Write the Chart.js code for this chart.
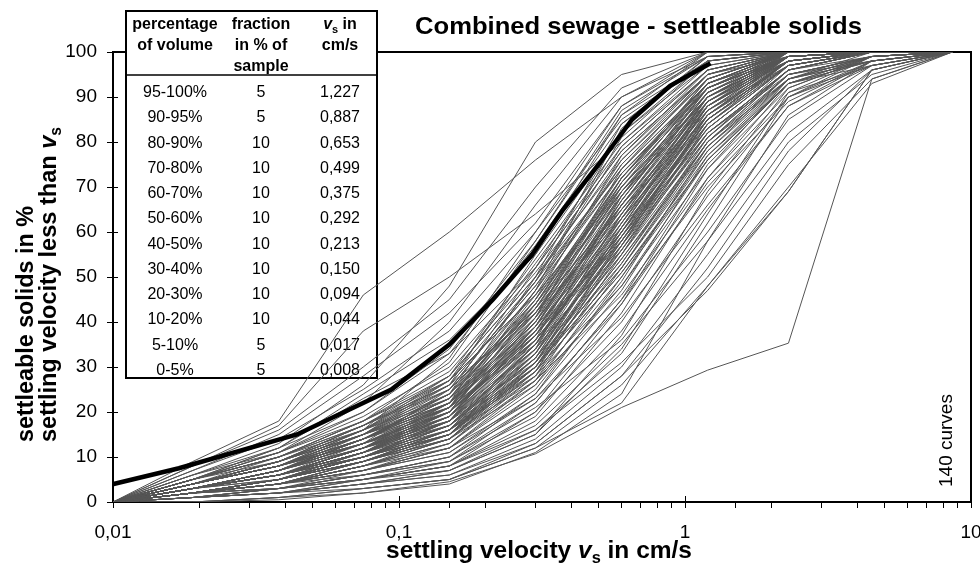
<!DOCTYPE html>
<html>
<head>
<meta charset="utf-8">
<title>Combined sewage - settleable solids</title>
<script src="https://cdn.jsdelivr.net/npm/chart.js@4.4.1/dist/chart.umd.min.js"></script>
<style>
  html, body { margin: 0; padding: 0; background: #fff; }
  #wrap { width: 980px; height: 571px; }
</style>
</head>
<body>
<div id="wrap"><canvas id="chart" width="980" height="571"></canvas></div>
<script>
/* ===============================
   Data
================================ */
const chartTitle = "Combined sewage - settleable solids";

// settling velocities (cm/s) at which every sample curve was read
const velocityGrid = [0.01, 0.019, 0.038, 0.075, 0.15, 0.3, 0.6, 1.2, 2.3, 4.5, 8.6];

// 140 sample curves, % settleable solids slower than v at each grid velocity
const grayCurves = [
  [0,9,18,46,60,76,90,100,100,100,100],
  [0,8,16,30,45,70,92,100,100,100,100],
  [0,7,15,28,42,62,88,99,100,100,100],
  [0,6,13,26,48,80,95,100,100,100,100],
  [0,7,14,25,38,60,85,98,100,100,100],
  [0,5,12,24,36,55,82,97,100,100,100],
  [0,6,11,22,40,66,90,99,100,100,100],
  [0,5,12,20,34,58,86,98,100,100,100],
  [0,8,17,38,50,64,80,96,100,100,100],
  [0,6,12,23,33,52,78,95,99,100,100],
  [0,4,8,15,24,45,72,92,99,100,100],
  [0,3,7,13,21,40,66,90,99,100,100],
  [0,4,9,16,26,48,75,94,100,100,100],
  [0,2,5,10,17,35,62,88,98,100,100],
  [0,3,6,12,19,38,65,89,99,100,100],
  [0,5,10,18,28,50,74,93,99,100,100],
  [0,2,4,8,14,30,58,85,98,100,100],
  [0,3,7,14,22,42,70,91,99,100,100],
  [0,4,8,14,20,36,60,86,98,100,100],
  [0,3,6,11,18,34,63,90,100,100,100],
  [0,2,5,9,15,32,60,87,99,100,100],
  [0,4,9,17,27,46,70,90,98,100,100],
  [0,3,5,10,16,31,55,82,95,98,100],
  [0,2,4,7,12,26,52,80,94,99,100],
  [0,3,7,13,20,39,68,92,100,100,100],
  [0,5,11,19,30,52,78,95,100,100,100],
  [0,3,6,11,17,33,59,85,98,100,100],
  [0,2,5,10,18,37,67,91,99,100,100],
  [0,4,8,15,23,41,64,87,98,100,100],
  [0,3,6,12,20,44,73,93,100,100,100],
  [0,2,3,6,10,22,45,75,93,97,100],
  [0,3,7,12,18,35,61,88,99,100,100],
  [0,4,9,16,24,43,69,90,99,100,100],
  [0,2,5,9,14,29,56,84,98,100,100],
  [0,3,6,10,16,30,54,80,96,99,100],
  [0,5,10,17,25,44,68,89,98,100,100],
  [0,3,7,14,23,47,76,95,100,100,100],
  [0,2,4,8,13,27,50,78,94,98,100],
  [0,4,8,13,19,34,57,83,97,100,100],
  [0,3,6,11,19,40,71,94,100,100,100],
  [0,2,5,10,16,28,48,74,92,99,100],
  [0,4,9,17,26,42,63,85,97,100,100],
  [0,3,6,12,21,45,77,96,100,100,100],
  [0,2,4,9,15,33,64,90,99,100,100],
  [0,3,7,13,22,38,58,82,96,100,100],
  [0,5,9,15,22,37,59,84,97,100,100],
  [0,2,5,11,19,41,72,93,100,100,100],
  [0,3,6,10,15,27,46,72,91,97,100],
  [0,4,8,14,21,39,66,90,99,100,100],
  [0,2,4,8,14,31,61,88,99,100,100],
  [0,3,7,12,17,30,52,79,95,99,100],
  [0,4,10,18,29,51,76,94,100,100,100],
  [0,2,5,9,16,36,69,92,100,100,100],
  [0,3,6,11,18,36,60,83,97,100,100],
  [0,2,4,7,11,24,47,77,93,98,100],
  [0,4,8,15,25,49,79,96,100,100,100],
  [0,3,6,12,20,37,62,86,98,100,100],
  [0,2,5,10,17,34,57,81,96,100,100],
  [0,4,9,15,22,40,67,91,99,100,100],
  [0,3,5,9,15,31,58,86,99,100,100],
  [0,2,4,8,12,25,49,79,95,99,100],
  [0,3,7,14,24,47,73,92,99,100,100],
  [0,5,10,16,23,39,61,84,97,100,100],
  [0,2,5,10,18,39,70,93,100,100,100],
  [0,3,6,11,16,29,51,77,94,98,100],
  [0,4,8,13,20,38,64,88,99,100,100],
  [0,2,4,9,16,35,66,91,100,100,100],
  [0,3,7,13,21,43,71,92,99,100,100],
  [0,2,5,9,14,28,53,81,97,100,100],
  [0,4,8,16,27,49,74,93,99,100,100],
  [0,3,6,12,19,36,59,82,96,100,100],
  [0,2,4,7,13,29,59,87,99,100,100],
  [0,3,6,11,18,41,74,95,100,100,100],
  [0,4,9,16,25,43,65,86,97,100,100],
  [0,2,5,10,17,32,55,80,95,99,100],
  [0,3,7,13,20,37,63,89,99,100,100],
  [0,2,3,7,12,27,55,84,98,100,100],
  [0,4,8,14,22,44,72,93,100,100,100],
  [0,3,6,10,15,30,57,85,98,100,100],
  [0,5,11,18,27,46,69,88,98,100,100],
  [0,2,4,8,14,30,54,79,94,99,100],
  [0,3,7,12,19,38,67,92,100,100,100],
  [0,2,5,11,20,42,69,90,99,100,100],
  [0,4,8,14,21,36,58,83,97,100,100],
  [0,3,6,11,17,32,61,89,100,100,100],
  [0,2,4,9,15,29,51,76,93,98,100],
  [0,3,7,14,23,45,70,91,99,100,100],
  [0,4,9,15,21,35,56,81,96,100,100],
  [0,2,5,10,16,33,62,89,99,100,100],
  [0,3,6,12,22,46,75,94,100,100,100],
  [0,2,4,7,12,23,44,71,90,97,100],
  [0,4,8,13,18,33,58,85,98,100,100],
  [0,3,6,11,20,43,72,94,100,100,100],
  [0,2,5,9,15,30,52,78,95,99,100],
  [0,3,7,14,22,40,65,88,98,100,100],
  [0,5,10,17,26,48,73,92,99,100,100],
  [0,2,4,8,13,28,57,86,99,100,100],
  [0,3,6,10,17,35,64,90,100,100,100],
  [0,4,8,15,24,42,66,87,97,100,100],
  [0,2,5,10,18,38,63,86,98,100,100],
  [0,3,6,12,18,31,53,80,96,100,100],
  [0,2,4,8,15,34,68,93,100,100,100],
  [0,3,7,13,21,41,68,90,99,100,100],
  [0,4,9,17,28,50,77,95,100,100,100],
  [0,2,5,9,14,26,48,76,94,99,100],
  [0,3,6,11,19,39,66,89,99,100,100],
  [0,2,4,9,16,32,56,82,96,100,100],
  [0,4,8,14,23,44,71,92,99,100,100],
  [0,3,6,12,20,37,60,85,98,100,100],
  [0,2,5,10,15,31,60,88,100,100,100],
  [0,3,6,12,22,50,84,99,100,100,100],
  [0,4,8,15,26,55,86,100,100,100,100],
  [0,3,7,14,24,52,82,98,100,100,100],
  [0,5,10,18,31,58,87,99,100,100,100],
  [0,4,9,16,28,54,80,97,100,100,100],
  [0,3,6,13,25,49,81,98,100,100,100],
  [0,2,5,11,21,47,83,99,100,100,100],
  [0,5,11,20,33,57,84,98,100,100,100],
  [0,4,8,16,32,60,88,100,100,100,100],
  [0,3,7,15,27,53,79,96,100,100,100],
  [0,1,3,6,9,20,40,68,90,98,100],
  [0,1,2,5,8,18,38,65,88,97,100],
  [0,2,3,6,10,21,36,60,85,97,100],
  [0,1,2,4,7,16,33,62,90,99,100],
  [0,1,3,5,8,17,35,58,82,96,100],
  [0,2,4,6,9,19,42,72,93,99,100],
  [0,1,2,4,6,14,30,55,80,95,100],
  [0,1,3,5,9,22,45,70,89,98,100],
  [0,0,1,3,5,13,28,52,78,96,100],
  [0,1,2,4,7,15,34,64,91,99,100],
  [0,2,3,5,8,16,31,50,75,94,100],
  [0,1,2,3,5,12,26,48,70,93,100],
  [0,0,1,2,4,11,24,58,86,98,100],
  [0,1,2,4,6,13,28,47,69,96,100],
  [0,1,3,6,10,24,50,76,93,99,100],
  [0,2,4,7,11,23,41,66,88,98,100],
  [0,1,2,5,8,20,44,74,94,100,100],
  [0,1,3,5,7,15,37,69,92,99,100],
  [0,0,0.5,2,4.5,10.7,21,29.3,35.3,94,100],
  [0,0,1,3,5,12,22,48,69,96,100]
];

// inset table: volume fractions and their settling velocities
const fractionRanges = ["95-100%", "90-95%", "80-90%", "70-80%", "60-70%", "50-60%",
                        "40-50%", "30-40%", "20-30%", "10-20%", "5-10%", "0-5%"];
const fractionShares = [5, 5, 10, 10, 10, 10, 10, 10, 10, 10, 5, 5];
const fractionVs = [1.227, 0.887, 0.653, 0.499, 0.375, 0.292, 0.213, 0.150, 0.094, 0.044, 0.017, 0.008];
// black design curve: cumulative % at each fraction velocity
const designPercent = [97.5, 92.5, 85, 75, 65, 55, 45, 35, 25, 15, 7.5, 2.5];

const xTickValues = [0.01, 0.1, 1, 10];
const xTickLabels = ["0,01", "0,1", "1", "10"];
const yTickValues = [0, 10, 20, 30, 40, 50, 60, 70, 80, 90, 100];

/* ===============================
   Text helpers
================================ */
const FONT = '"Liberation Sans", Arial, Helvetica, sans-serif';
const bold = size => "bold " + size + "px " + FONT;
const boldItalic = size => "italic bold " + size + "px " + FONT;
const regular = size => size + "px " + FONT;

function richWidth(ctx, parts) {
  let w = 0;
  parts.forEach(p => { ctx.font = p.font; w += ctx.measureText(p.text).width; });
  return w;
}

// draws text runs on one baseline; fitWidth nudges it to the measured width, center centres it
function drawRich(ctx, parts, x, y, fitWidth, center) {
  const w = richWidth(ctx, parts);
  const sx = fitWidth ? fitWidth / w : 1;
  ctx.save();
  ctx.textAlign = "left";
  ctx.textBaseline = "alphabetic";
  ctx.translate(center ? x - w * sx / 2 : x, y);
  ctx.scale(sx, 1);
  let cx = 0;
  parts.forEach(p => {
    ctx.font = p.font;
    ctx.fillText(p.text, cx, p.dy || 0);
    cx += ctx.measureText(p.text).width;
  });
  ctx.restore();
}

function vsParts(size, subSize) {
  return [
    { text: "v", font: boldItalic(size) },
    { text: "s", font: bold(subSize), dy: Math.round(size * 0.22) }
  ];
}

/* ===============================
   Inset table
================================ */
function drawTable(ctx) {
  const L = 126, T = 11, R = 377, B = 378, HEAD = 75;
  const cols = [175, 261, 340];

  ctx.fillStyle = "#fff";
  ctx.fillRect(L, T, R - L, B - T);
  ctx.strokeStyle = "#000";
  ctx.lineWidth = 2;
  ctx.strokeRect(L, T, R - L, B - T);
  ctx.lineWidth = 1.5;
  ctx.beginPath();
  ctx.moveTo(L, HEAD);
  ctx.lineTo(R, HEAD);
  ctx.stroke();

  ctx.fillStyle = "#000";
  ctx.textAlign = "center";
  ctx.textBaseline = "alphabetic";
  ctx.font = bold(16);
  ctx.fillText("percentage", cols[0], 29);
  ctx.fillText("of volume", cols[0], 50);
  ctx.fillText("fraction", cols[1], 29);
  ctx.fillText("in % of", cols[1], 50);
  ctx.fillText("sample", cols[1], 71);
  drawRich(ctx, vsParts(16, 11).concat([{ text: " in", font: bold(16) }]), cols[2], 29, 0, true);
  ctx.textAlign = "center";
  ctx.font = bold(16);
  ctx.fillText("cm/s", cols[2], 50);

  ctx.font = regular(16);
  fractionRanges.forEach((r, i) => {
    const y = 97 + i * 25.27;
    ctx.fillText(r, cols[0], y);
    ctx.fillText(String(fractionShares[i]), cols[1], y);
    ctx.fillText(fractionVs[i].toFixed(3).replace(".", ","), cols[2], y);
  });
}

/* ===============================
   Plugin: frame, table, titles
================================ */
const decorations = {
  id: "decorations",
  beforeDatasetsDraw(chart) {
    const ctx = chart.ctx, a = chart.chartArea;
    const xs = chart.scales.x, ys = chart.scales.y;
    ctx.save();
    ctx.strokeStyle = "#000";
    ctx.lineWidth = 2;
    ctx.strokeRect(a.left, a.top, a.right - a.left, a.bottom - a.top);
    // tick marks that also reach into the plot
    ctx.lineWidth = 1;
    ctx.beginPath();
    yTickValues.forEach(v => {
      const py = Math.round(ys.getPixelForValue(v)) + 0.5;
      ctx.moveTo(a.left, py);
      ctx.lineTo(a.left + 5, py);
    });
    xTickValues.forEach(v => {
      const px = Math.round(xs.getPixelForValue(v)) + 0.5;
      ctx.moveTo(px, a.bottom);
      ctx.lineTo(px, a.bottom - 6);
    });
    ctx.stroke();
    drawTable(ctx);
    ctx.restore();
  },
  afterDraw(chart) {
    const ctx = chart.ctx;
    ctx.save();
    ctx.fillStyle = "#000";

    drawRich(ctx, [{ text: chartTitle, font: bold(24) }], 415, 34, 447);

    drawRich(ctx, [{ text: "settling velocity ", font: bold(24) }]
      .concat(vsParts(24, 16))
      .concat([{ text: " in cm/s", font: bold(24) }]), 386, 558, 306);

    ctx.save();
    ctx.translate(33, 442);
    ctx.rotate(-Math.PI / 2);
    drawRich(ctx, [{ text: "settleable solids in %", font: bold(24) }], 0, 0, 236);
    ctx.restore();

    ctx.save();
    ctx.translate(56, 442);
    ctx.rotate(-Math.PI / 2);
    drawRich(ctx, [{ text: "settling velocity less than ", font: bold(24) }]
      .concat(vsParts(24, 16)), 0, 0, 315);
    ctx.restore();

    ctx.save();
    ctx.translate(952, 487);
    ctx.rotate(-Math.PI / 2);
    ctx.font = regular(19);
    ctx.textAlign = "left";
    ctx.textBaseline = "alphabetic";
    ctx.fillText("140 curves", 0, 0);
    ctx.restore();

    ctx.restore();
  }
};

/* ===============================
   Chart
================================ */
const datasets = [{
  data: fractionVs.map((v, i) => ({ x: v, y: designPercent[i] })),
  showLine: true,
  borderColor: "#000",
  borderWidth: 4.5,
  pointRadius: 0
}];

grayCurves.forEach(curve => {
  datasets.push({
    data: curve.map((p, i) => ({ x: velocityGrid[i], y: p })),
    showLine: true,
    borderColor: "#555555",
    borderWidth: 1,
    pointRadius: 0
  });
});

const tickFont = { family: FONT, size: 19 };
const tickGrid = { display: true, drawOnChartArea: false, drawTicks: true, tickLength: 6, color: "#000", lineWidth: 1 };

new Chart(document.getElementById("chart"), {
  type: "scatter",
  data: { datasets },
  options: {
    responsive: false,
    animation: false,
    events: [],
    layout: { padding: { top: 52, right: 9, bottom: 0, left: 0 } },
    plugins: { legend: { display: false }, tooltip: { enabled: false }, title: { display: false } },
    elements: { line: { tension: 0 } },
    scales: {
      x: {
        type: "logarithmic",
        min: 0.01,
        max: 10,
        grid: tickGrid,
        border: { display: false },
        ticks: {
          autoSkip: false,
          maxRotation: 0,
          minRotation: 0,
          padding: 13,
          color: "#000",
          font: tickFont,
          callback: value => {
            const k = xTickValues.findIndex(t => Math.abs(Math.log10(value) - Math.log10(t)) < 1e-6);
            return k >= 0 ? xTickLabels[k] : "";
          }
        },
        afterFit: s => { s.height = 69; s.paddingLeft = 0; s.paddingRight = 0; }
      },
      y: {
        min: 0,
        max: 100,
        grid: tickGrid,
        border: { display: false },
        ticks: { stepSize: 10, padding: 10, color: "#000", font: tickFont },
        afterFit: s => { s.width = 113; s.paddingTop = 0; s.paddingBottom = 0; }
      }
    }
  },
  plugins: [decorations]
});
</script>
</body>
</html>
